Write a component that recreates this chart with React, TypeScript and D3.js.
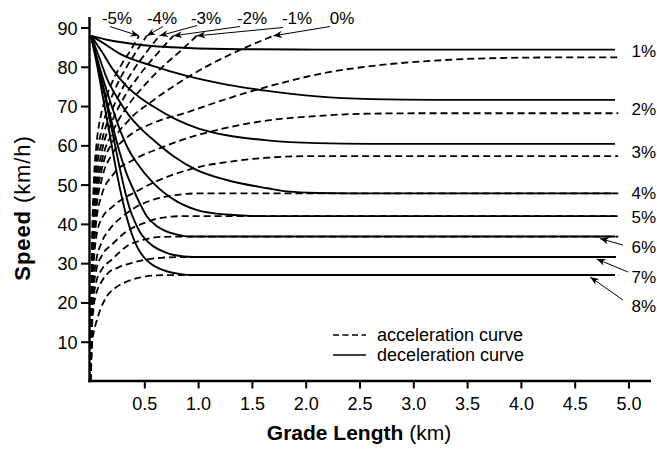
import React from "react";
import * as d3 from "d3";

// ---- data -------------------------------------------------------------
// distance along grade (km), speed (km/h)
type Pt = [number, number];

// deceleration curves, entering at 88 km/h on upgrades
const decelGrades = ["1%", "2%", "3%", "4%", "5%", "6%", "7%", "8%"];
const decel1: Pt[] = [[0, 88], [0.15, 87], [0.43, 85.8], [0.9, 84.9], [1.4, 84.6], [2.1, 84.5], [4.87, 84.5]];
const decel2: Pt[] = [[0, 88], [0.1, 86.4], [0.27, 83.4], [0.58, 80.3], [0.89, 77.8], [1.26, 75.6], [1.64, 74], [2.1, 72.6], [2.6, 71.9], [3.2, 71.7], [4.87, 71.7]];
const decel3: Pt[] = [[0, 88], [0.1, 84], [0.2, 79.6], [0.33, 75.2], [0.45, 72.4], [0.58, 70], [0.8, 66.6], [1.0, 64.4], [1.26, 62.7], [1.64, 61.4], [2.1, 60.7], [2.6, 60.5], [4.87, 60.5]];
const decel4: Pt[] = [[0, 88], [0.07, 83], [0.15, 77], [0.25, 72], [0.36, 67.5], [0.47, 64.2], [0.58, 61.5], [0.77, 57.3], [0.98, 53.9], [1.26, 51.3], [1.64, 49.2], [1.82, 48.4], [2.1, 48], [2.5, 47.9], [4.87, 47.9]];
const decel5: Pt[] = [[0, 88], [0.08, 80], [0.17, 72], [0.27, 64], [0.35, 59], [0.43, 55.5], [0.58, 50.5], [0.77, 46.3], [0.98, 43.7], [1.26, 42.5], [1.6, 42.1], [4.87, 42.1]];
const decel6: Pt[] = [[0, 88], [0.07, 80], [0.15, 71], [0.22, 63], [0.27, 58], [0.33, 53], [0.4, 48.5], [0.46, 45], [0.52, 42], [0.6, 39.8], [0.67, 38.6], [0.8, 37.4], [0.92, 36.9], [4.87, 36.9]];
const decel7: Pt[] = [[0, 88], [0.07, 80], [0.15, 70], [0.21, 62], [0.27, 54], [0.32, 48], [0.36, 44], [0.41, 40.5], [0.46, 37.8], [0.52, 35.8], [0.58, 34.4], [0.68, 33], [0.77, 32.2], [0.95, 31.7], [4.87, 31.7]];
const decel8: Pt[] = [[0, 88], [0.06, 80], [0.12, 71], [0.18, 62], [0.24, 53], [0.29, 46.5], [0.33, 42], [0.38, 37.5], [0.43, 34.2], [0.49, 31.7], [0.55, 30.1], [0.63, 28.8], [0.71, 28], [0.82, 27.4], [0.95, 27.1], [4.87, 27.1]];
const decelCurves = [decel1, decel2, decel3, decel4, decel5, decel6, decel7, decel8];

// acceleration curves, starting from rest
const accelGrades = ["-5%", "-4%", "-3%", "-2%", "-1%", "0%", "1%", "2%", "3%", "4%", "5%", "6%", "7%", "8%"];
const accelM5: Pt[] = [[0, 0], [0.003, 20], [0.01, 35], [0.025, 50], [0.05, 60], [0.09, 67.5], [0.15, 73], [0.22, 77.6], [0.29, 81], [0.37, 84.4], [0.446, 88]];
const accelM4: Pt[] = [[0, 0], [0.003, 18], [0.01, 32], [0.025, 46], [0.05, 56], [0.1, 64], [0.16, 70], [0.25, 76], [0.34, 80.5], [0.43, 84.4], [0.518, 88]];
const accelM3: Pt[] = [[0, 0], [0.003, 17], [0.01, 30], [0.025, 43], [0.05, 53], [0.1, 61], [0.18, 68], [0.28, 74], [0.4, 79.5], [0.52, 84], [0.635, 88]];
const accelM2: Pt[] = [[0, 0], [0.003, 16], [0.01, 28], [0.025, 41], [0.05, 50], [0.1, 58.5], [0.2, 66.5], [0.3, 72], [0.45, 78], [0.61, 83.3], [0.765, 88]];
const accelM1: Pt[] = [[0, 0], [0.003, 15], [0.01, 27], [0.025, 39], [0.05, 48], [0.1, 56], [0.2, 63.5], [0.35, 70.5], [0.5, 75.5], [0.7, 81], [0.85, 84.6], [0.982, 88]];
const accel0: Pt[] = [[0, 0], [0.003, 15], [0.01, 26], [0.025, 37], [0.05, 46], [0.1, 54], [0.2, 61], [0.35, 66.5], [0.58, 71.6], [0.9, 77.5], [1.2, 82], [1.45, 85.2], [1.694, 88]];
const accel1: Pt[] = [[0, 0], [0.003, 14], [0.01, 25], [0.025, 35], [0.05, 44], [0.1, 51.5], [0.2, 58], [0.35, 62.5], [0.55, 65.5], [0.9, 68.6], [1.3, 72.3], [1.7, 75.5], [2.2, 78.7], [2.7, 80.6], [3.2, 81.7], [3.7, 82.3], [4.3, 82.5], [4.9, 82.5]];
const accel2: Pt[] = [[0, 0], [0.003, 13], [0.01, 23], [0.025, 33], [0.05, 41], [0.1, 47.5], [0.2, 52.5], [0.4, 56.5], [0.65, 59.5], [0.9, 62], [1.2, 64.2], [1.6, 66.3], [2.1, 67.6], [2.6, 68.2], [3.2, 68.3], [4.9, 68.3]];
const accel3: Pt[] = [[0, 0], [0.003, 12], [0.01, 21], [0.025, 30], [0.05, 37], [0.1, 41.5], [0.2, 44.5], [0.43, 48.5], [0.61, 51], [0.8, 53], [1.0, 54.6], [1.3, 56], [1.65, 57], [2.1, 57.4], [4.9, 57.4]];
const accel4: Pt[] = [[0, 0], [0.003, 11], [0.01, 19], [0.025, 26], [0.05, 31], [0.1, 35.5], [0.18, 39], [0.3, 42.2], [0.43, 44.6], [0.58, 46.3], [0.77, 47.4], [1.0, 47.9], [4.9, 47.9]];
const accel5: Pt[] = [[0, 0], [0.003, 10], [0.01, 17.5], [0.025, 24], [0.05, 28.5], [0.1, 32], [0.2, 35], [0.33, 38.2], [0.49, 40.3], [0.64, 41.6], [0.85, 42.1], [4.9, 42.1]];
const accel6: Pt[] = [[0, 0], [0.003, 9.5], [0.01, 16], [0.025, 21.5], [0.05, 25.5], [0.1, 28.5], [0.2, 31.2], [0.33, 34.4], [0.49, 36.1], [0.64, 36.8], [0.85, 36.9], [4.9, 36.9]];
const accel7: Pt[] = [[0, 0], [0.003, 9], [0.01, 14], [0.025, 19], [0.05, 22.5], [0.1, 25.5], [0.165, 27.8], [0.25, 29], [0.38, 30.2], [0.5, 31], [0.65, 31.5], [0.85, 31.7], [4.9, 31.7]];
const accel8: Pt[] = [[0, 0], [0.003, 6], [0.01, 9.5], [0.025, 12.5], [0.05, 15.2], [0.085, 18.2], [0.145, 21.6], [0.24, 24.1], [0.33, 25.4], [0.46, 26.5], [0.6, 27], [0.75, 27.1], [4.9, 27.1]];
const accelCurves = [accelM5, accelM4, accelM3, accelM2, accelM1, accel0, accel1, accel2, accel3, accel4, accel5, accel6, accel7, accel8];

const xTicks = [0.5, 1.0, 1.5, 2.0, 2.5, 3.0, 3.5, 4.0, 4.5, 5.0];
const yTicks = [10, 20, 30, 40, 50, 60, 70, 80, 90];

// ---- layout -----------------------------------------------------------
const W = 657;
const H = 451;
const FONT = "'Liberation Sans', Arial, Helvetica, sans-serif";

const x = d3.scaleLinear().domain([0, 5]).range([91, 629]);
const y = d3.scaleLinear().domain([0, 90]).range([381.5, 28]);
const line = d3
  .line<Pt>()
  .x((d) => x(d[0]))
  .y((d) => y(d[1]))
  .curve(d3.curveMonotoneX);

// downgrade labels along the top: centre x, baseline, arrow tail offset
const topLabelX = [117, 162, 206, 252, 297, 342];
const topLabelTail: [number, number][] = [[-7, 3], [1, 3], [-9, 2], [-12, 3], [-14, 4], [-12, 3]];
const TOP_BASELINE = 23.5;

// grade labels at the right edge
const rightLabelX = 631.5;
const rightBaselines = [56.5, 114.5, 158, 199, 223, 253, 283, 311.5];
// arrows to the 6 %, 7 %, 8 % deceleration lines: tip distance and tail point
const rightArrowTipKm = [4.73, 4.7, 4.64];
const rightArrowTail: [number, number][] = [[623, 245], [628, 272], [623, 300]];

export default function App() {
  const axisY = y(0) - 0.5;
  const axisX = x(0) - 1.5;
  return (
    <svg
      width={W}
      height={H}
      viewBox={`0 0 ${W} ${H}`}
      style={{ display: "block", position: "absolute", left: 0, top: 0, background: "#fff" }}
      fontFamily={FONT}
    >
      <defs>
        <marker id="head" viewBox="0 0 10 8" refX={10} refY={4} markerWidth={9} markerHeight={7} markerUnits="userSpaceOnUse" orient="auto">
          <path d="M0,0 L10,4 L0,8 L3,4 Z" fill="#000" />
        </marker>
      </defs>
      <rect width={W} height={H} fill="#fff" />

      {/* acceleration curves */}
      <g fill="none" stroke="#000" strokeWidth={1.8} strokeDasharray="7,4">
        {accelCurves.map((c, i) => (
          <path key={accelGrades[i]} d={line(c) ?? ""} />
        ))}
      </g>

      {/* deceleration curves */}
      <g fill="none" stroke="#000" strokeWidth={1.9}>
        {decelCurves.map((c, i) => (
          <path key={decelGrades[i]} d={line(c) ?? ""} />
        ))}
      </g>

      {/* axes */}
      <g stroke="#000" strokeWidth={2.4}>
        <line x1={axisX} x2={axisX} y1={17} y2={axisY + 1.2} />
        <line x1={axisX - 1.2} x2={651} y1={axisY} y2={axisY} />
        {yTicks.map((t) => (
          <line key={t} x1={axisX - 8.5} x2={axisX} y1={y(t)} y2={y(t)} strokeWidth={2} />
        ))}
        {xTicks.map((t) => (
          <line key={t} x1={x(t)} x2={x(t)} y1={axisY} y2={axisY + 7.5} strokeWidth={2} />
        ))}
      </g>
      <g fontSize={18} fill="#000">
        {yTicks.map((t) => (
          <text key={t} x={77.5} y={y(t) + 6.5} textAnchor="end">
            {t}
          </text>
        ))}
        {xTicks.map((t) => (
          <text key={t} x={x(t)} y={410} textAnchor="middle">
            {t.toFixed(1)}
          </text>
        ))}
      </g>

      {/* axis titles */}
      <text transform={`translate(30,208) rotate(-90)`} textAnchor="middle" fontSize={22} letterSpacing={0.9}>
        <tspan fontWeight="bold">Speed</tspan>
        <tspan> (km/h)</tspan>
      </text>
      <text x={359} y={440} textAnchor="middle" fontSize={21}>
        <tspan fontWeight="bold">Grade Length</tspan>
        <tspan> (km)</tspan>
      </text>

      {/* downgrade labels with arrows to the curve ends */}
      <g fontSize={17}>
        {accelGrades.slice(0, 6).map((g, i) => {
          const c = accelCurves[i];
          const end = c[c.length - 1];
          const tx = topLabelX[i] + topLabelTail[i][0];
          const ty = TOP_BASELINE + topLabelTail[i][1];
          return (
            <g key={g}>
              <text x={topLabelX[i]} y={TOP_BASELINE} textAnchor="middle">
                {g}
              </text>
              <line x1={tx} y1={ty} x2={x(end[0])} y2={y(end[1])} stroke="#000" strokeWidth={1} markerEnd="url(#head)" />
            </g>
          );
        })}
      </g>

      {/* upgrade labels */}
      <g fontSize={17}>
        {decelGrades.map((g, i) => (
          <text key={g} x={rightLabelX} y={rightBaselines[i]}>
            {g}
          </text>
        ))}
        {rightArrowTipKm.map((km, i) => {
          const c = decelCurves[5 + i];
          const v = c[c.length - 1][1];
          return (
            <line
              key={i}
              x1={rightArrowTail[i][0]}
              y1={rightArrowTail[i][1]}
              x2={x(km)}
              y2={y(v) + 2}
              stroke="#000"
              strokeWidth={1}
              markerEnd="url(#head)"
            />
          );
        })}
      </g>

      {/* legend */}
      <g>
        <line x1={333} x2={366} y1={335} y2={335} stroke="#000" strokeWidth={1.5} strokeDasharray="6,3.5" />
        <line x1={333} x2={366} y1={355} y2={355} stroke="#000" strokeWidth={1.5} />
        <text x={377} y={341} fontSize={18}>
          acceleration curve
        </text>
        <text x={377} y={361} fontSize={18}>
          deceleration curve
        </text>
      </g>
    </svg>
  );
}
